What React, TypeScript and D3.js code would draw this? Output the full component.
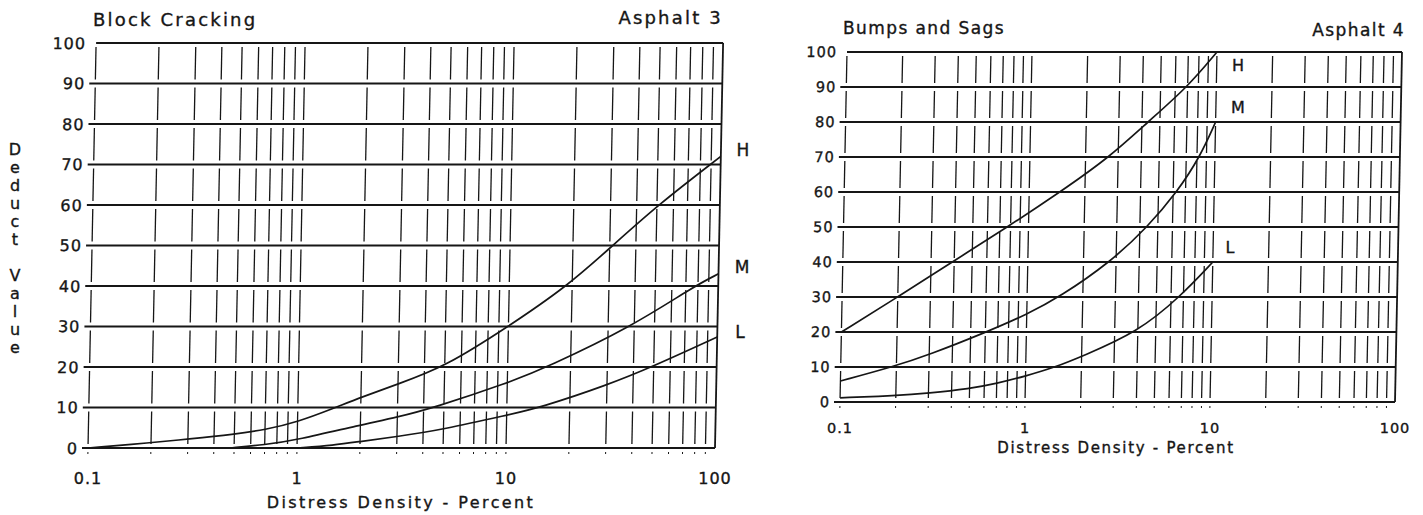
import React from "react";
import * as d3 from "d3";

// ---------- data ----------
const yTickValues = [0, 10, 20, 30, 40, 50, 60, 70, 80, 90, 100];
const xTickValues = [0.1, 1, 10, 100];
const xTickLabels = ["0.1", "1", "10", "100"];
const xAxisTitle = "Distress Density - Percent";
const yAxisTitleLetters = ["D", "e", "d", "u", "c", "t", "", "V", "a", "l", "u", "e"];

// Block Cracking (Asphalt 3)
const bcTitle = "Block Cracking";
const bcSub = "Asphalt 3";
const bcH_x = [0.1, 0.2, 0.3, 0.5, 0.7, 1, 1.5, 2, 3, 5, 10, 19, 31, 50.5, 100];
const bcH_y = [0, 1.3, 2.2, 3.4, 4.5, 6.4, 9.9, 12.5, 15.8, 20, 30, 40, 50, 60, 72];
const bcM_x = [0.48, 0.7, 1, 2, 3, 4.5, 10, 15.5, 39, 77, 100];
const bcM_y = [0, 0.8, 2, 5.7, 7.6, 10, 16, 20, 30, 40, 43];
const bcL_x = [1, 1.5, 2, 3, 5, 10, 14.5, 30, 49, 100];
const bcL_y = [0, 0.7, 1.6, 2.8, 4.6, 8.1, 10, 15.5, 20, 27.4];
const bcLabels = ["H", "M", "L"];

// Bumps and Sags (Asphalt 4)
const bsTitle = "Bumps and Sags";
const bsSub = "Asphalt 4";
const bsH_x = [0.1, 0.2, 0.39, 0.77, 1.47, 2.7, 4.3, 7.0, 10];
const bsH_y = [20, 30, 40, 50, 60, 70, 80, 90, 100];
const bsM_x = [0.1, 0.19, 0.3, 0.61, 1, 1.5, 2.8, 4.4, 6.3, 8.3, 10];
const bsM_y = [6, 10, 13.5, 20, 25, 30, 40, 50, 60, 70, 80];
const bsL_x = [0.1, 0.2, 0.3, 0.5, 0.7, 1, 1.45, 2, 4, 6.7, 10];
const bsL_y = [1.2, 1.8, 2.5, 3.8, 5.3, 7.4, 10, 13, 20, 30, 40];
const bsLabels = ["H", "M", "L"];

const INK = "#161616";
const FONT = "'DejaVu Sans', Verdana, sans-serif";
const TEXT_STROKE = 0.35;

type Series = { xs: number[]; ys: number[]; label: string; lx: number; ly: number };

type ChartProps = {
  x0: number; x1: number; yBottom: number; yTop: number;
  skew: number;
  title: string; sub: string;
  titleX: number; titleY: number; subRight: number; subY: number;
  titleSize: number; titleLs: number;
  tickSize: number; tickLs: number; tickRight: number;
  xLabelY: number; axisTitleY: number; axisTitleX: number; axisSize: number; axisLs: number;
  labelSize: number;
  series: Series[];
};

const txt = { fontFamily: FONT, fill: INK, stroke: INK, strokeWidth: TEXT_STROKE } as const;

function Chart(p: ChartProps) {
  const x = d3.scaleLog().domain([0.1, 100]).range([p.x0, p.x1]);
  const y = d3.scaleLinear().domain([0, 100]).range([p.yBottom, p.yTop]);
  const gridX: number[] = [];
  [0.1, 1, 10].forEach((d) => {
    for (let m = 1; m <= 9; m++) gridX.push(+(m * d).toPrecision(3));
  });
  const skewDeg = (-Math.atan(p.skew) * 180) / Math.PI;
  const line = d3
    .line<[number, number]>()
    .x((d) => x(d[0]))
    .y((d) => y(d[1]))
    .curve(d3.curveBasis);
  const gap = 4;
  const cells = d3.range(10).map((i) => [i * 10, i * 10 + 10]);
  return (
    <g>
      <g transform={`translate(${p.skew * p.yBottom},0) skewX(${skewDeg})`}>
        {/* vertical grid segments */}
        {gridX.map((g) =>
          cells.map(([a, b]) => (
            <line
              key={`v${g}-${a}`}
              x1={x(g)} x2={x(g)}
              y1={y(b) + gap} y2={y(a) - gap}
              stroke={INK}
              strokeWidth={1.3}
            />
          ))
        )}
        {gridX.map((g) => (
          <line key={`t${g}`} x1={x(g)} x2={x(g)} y1={y(0) + 4} y2={y(0) + 6} stroke={INK} strokeWidth={1} />
        ))}
        {/* right border */}
        <line x1={x(100)} x2={x(100)} y1={y(100)} y2={y(0)} stroke={INK} strokeWidth={1.8} />
        {/* horizontal lines */}
        {yTickValues.map((v) => (
          <line key={`h${v}`} x1={p.x0 - (v === 100 ? 0 : 6)} x2={x(100)} y1={y(v)} y2={y(v)} stroke={INK} strokeWidth={2.2} />
        ))}
        {/* y tick labels */}
        {yTickValues.map((v) => (
          <text
            key={`yl${v}`}
            x={p.tickRight}
            y={y(v)}
            dy="0.36em"
            textAnchor="end"
            fontSize={p.tickSize}
            letterSpacing={p.tickLs}
            {...txt}
          >
            {v}
          </text>
        ))}
        {/* curves */}
        {p.series.map((s) => (
          <path
            key={s.label}
            d={line(s.xs.map((v, i) => [v, s.ys[i]] as [number, number])) || ""}
            fill="none"
            stroke={INK}
            strokeWidth={1.7}
          />
        ))}
      </g>
      {/* x tick labels */}
      {xTickValues.map((v, i) => (
        <text
          key={`xl${v}`}
          x={x(v)}
          y={p.xLabelY}
          textAnchor="middle"
          fontSize={p.tickSize}
          letterSpacing={p.tickLs}
          {...txt}
        >
          {xTickLabels[i]}
        </text>
      ))}
      <text x={p.axisTitleX} y={p.axisTitleY} textAnchor="middle" fontSize={p.axisSize} letterSpacing={p.axisLs} {...txt}>
        {xAxisTitle}
      </text>
      <text x={p.titleX} y={p.titleY} fontSize={p.titleSize} letterSpacing={p.titleLs} {...txt}>
        {p.title}
      </text>
      <text x={p.subRight} y={p.subY} textAnchor="end" fontSize={p.titleSize} letterSpacing={p.titleLs} {...txt}>
        {p.sub}
      </text>
      {p.series.map((s) => (
        <text
          key={`lab${s.label}`}
          x={s.lx}
          y={s.ly}
          dy="0.36em"
          textAnchor="middle"
          fontSize={p.labelSize}
          {...txt}
        >
          {s.label}
        </text>
      ))}
    </g>
  );
}

export default function App() {
  const left: Series[] = [
    { xs: bcH_x, ys: bcH_y, label: bcLabels[0], lx: 743, ly: 150 },
    { xs: bcM_x, ys: bcM_y, label: bcLabels[1], lx: 742, ly: 267 },
    { xs: bcL_x, ys: bcL_y, label: bcLabels[2], lx: 740, ly: 332 },
  ];
  const right: Series[] = [
    { xs: bsH_x, ys: bsH_y, label: bsLabels[0], lx: 1238, ly: 65 },
    { xs: bsM_x, ys: bsM_y, label: bsLabels[1], lx: 1238, ly: 107 },
    { xs: bsL_x, ys: bsL_y, label: bsLabels[2], lx: 1230, ly: 247 },
  ];
  return (
    <svg
      width={1423}
      height={515}
      style={{ position: "absolute", left: 0, top: 0, background: "#fff" }}
    >
      <rect x={0} y={0} width={1423} height={515} fill="#fff" />
      <Chart
        x0={88} x1={715} yBottom={448} yTop={43} skew={0.02}
        title={bcTitle} sub={bcSub}
        titleX={93} titleY={26} subRight={723} subY={24}
        titleSize={18} titleLs={2.2}
        tickSize={16} tickLs={1} tickRight={78}
        xLabelY={484} axisTitleY={508} axisTitleX={401} axisSize={16} axisLs={2.4}
        labelSize={17}
        series={left}
      />
      {yAxisTitleLetters.map((c, i) => (
        <text key={`ya${i}`} x={15} y={149 + i * 18} dy="0.36em" textAnchor="middle" fontSize={16} {...txt}>
          {c}
        </text>
      ))}
      <Chart
        x0={840} x1={1395} yBottom={402} yTop={52} skew={0.02}
        title={bsTitle} sub={bsSub}
        titleX={843} titleY={34} subRight={1405} subY={36}
        titleSize={17} titleLs={1.4}
        tickSize={14.5} tickLs={1} tickRight={830}
        xLabelY={433} axisTitleY={453} axisTitleX={1116} axisSize={15} axisLs={1.7}
        labelSize={16}
        series={right}
      />
    </svg>
  );
}
